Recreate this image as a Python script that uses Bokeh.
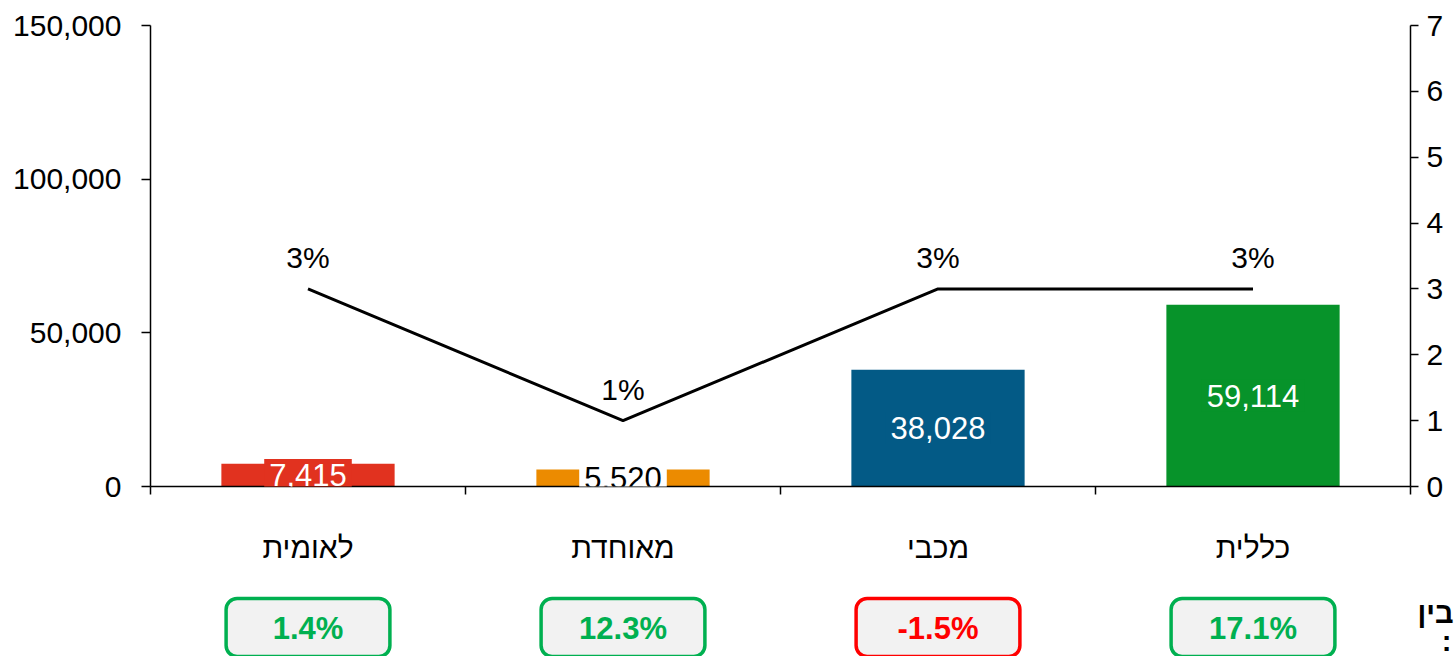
from bokeh.plotting import figure
from bokeh.layouts import column
from bokeh.models import (ColumnDataSource, Range1d, LinearAxis, FixedTicker,
                          NumeralTickFormatter, LabelSet, Label)
from bokeh.core.properties import value
from bokeh.embed import file_html
from bokeh.resources import INLINE

# ---------------- data ----------------
categories = ["לאומית", "מאוחדת", "מכבי", "כללית"]
members = [7415, 5520, 38028, 59114]
share_pct = [3, 1, 3, 3]
change_pct = [1.4, 12.3, -1.5, 17.1]
left_ticks = [0, 50000, 100000, 150000]
right_ticks = [0, 1, 2, 3, 4, 5, 6, 7]
side_note = ["בין", ":"]          # cut-off note at the bottom-right edge

# ---------------- styles / layout ----------------
bar_colors = ["#E1321F", "#EC8B00", "#035A86", "#07932A"]
label_text_colors = ["white", "black", "white", "white"]
label_bg_colors = ["#E1321F", "white", "#035A86", "#07932A"]
FONT = "Liberation Sans"
W, H = 1456, 656
FRAME_L, FRAME_R, FRAME_T, FRAME_B = 150, 1412, 25, 486
MAIN_H = 583
STRIP_H = H - MAIN_H

n = len(categories)
slot = [i + 0.5 for i in range(n)]   # centre of each category slot

src = ColumnDataSource(dict(
    x=slot,
    members=members,
    share=share_pct,
    share_lbl=[f"{s}%" for s in share_pct],
    color=bar_colors,
    chg_lbl=[f"{c:.1f}%" for c in change_pct],
    chg_col=["#00B050" if c >= 0 else "#FF0000" for c in change_pct],
))

p = figure(width=W, height=MAIN_H,
           x_range=Range1d(0, n),
           y_range=Range1d(0, 150000),
           output_backend="svg", toolbar_location=None,
           x_axis_location=None, y_axis_location=None,
           min_border_left=FRAME_L, min_border_right=W - FRAME_R,
           min_border_top=FRAME_T, min_border_bottom=MAIN_H - FRAME_B)
p.outline_line_color = None
p.grid.visible = False
p.background_fill_color = "white"

p.extra_y_ranges = {"pct": Range1d(0, 7)}

xa = LinearAxis(ticker=FixedTicker(ticks=slot, minor_ticks=list(range(n + 1))),
                major_label_overrides={sx: c for sx, c in zip(slot, categories)})
xa.major_tick_out = 0
xa.major_tick_in = 0
xa.minor_tick_out = 8
xa.minor_tick_in = 0
xa.minor_tick_line_color = "black"
xa.minor_tick_line_width = 1.5
xa.axis_line_color = "black"
xa.axis_line_width = 1.5
xa.major_label_standoff = 36
xa.major_label_text_font = FONT
xa.major_label_text_font_size = "30px"
xa.major_label_text_color = "black"
p.add_layout(xa, "below")

ya = LinearAxis(ticker=FixedTicker(ticks=left_ticks),
                formatter=NumeralTickFormatter(format="0,0"))
ya.major_tick_out = 9
ya.major_tick_in = 0
ya.minor_tick_out = 0
ya.minor_tick_in = 0
ya.major_tick_line_width = 1.5
ya.axis_line_width = 1.5
ya.major_label_standoff = 20
ya.major_label_text_font = FONT
ya.major_label_text_font_size = "30px"
ya.major_label_text_color = "black"
p.add_layout(ya, "left")

ya2 = LinearAxis(y_range_name="pct", ticker=FixedTicker(ticks=right_ticks))
ya2.major_tick_out = 8
ya2.major_tick_in = 0
ya2.minor_tick_out = 0
ya2.minor_tick_in = 0
ya2.major_tick_line_width = 1.5
ya2.axis_line_width = 1.5
ya2.major_label_standoff = 8
ya2.major_label_text_font = FONT
ya2.major_label_text_font_size = "30px"
ya2.major_label_text_color = "black"
p.add_layout(ya2, "right")

p.vbar(x="x", top="members", width=0.55, fill_color="color", line_color=None, source=src)
p.line(x="x", y="share", y_range_name="pct", line_width=3, line_color="black", source=src)

# value labels in the middle of each bar, with a box behind them
for sx, m, tc, bg in zip(slot, members, label_text_colors, label_bg_colors):
    p.add_layout(Label(x=sx, y=m / 2, text=f"{m:,}",
                       text_align="center", text_baseline="middle",
                       text_color=tc, background_fill_color=bg, padding=5,
                       text_font=FONT, text_font_size="31px"))

p.add_layout(LabelSet(x="x", y="share", y_range_name="pct", text="share_lbl", source=src,
                      text_align="center", text_baseline="bottom", y_offset=15,
                      text_color="black", text_font=value(FONT), text_font_size="30px"))

# ---------------- bottom strip with change boxes ----------------
s = figure(width=W, height=STRIP_H,
           x_range=p.x_range,
           y_range=Range1d(STRIP_H, 0),
           output_backend="svg", toolbar_location=None,
           x_axis_location=None, y_axis_location=None,
           min_border_left=FRAME_L, min_border_right=W - FRAME_R,
           min_border_top=0, min_border_bottom=0)
s.outline_line_color = None
s.grid.visible = False
s.vbar(x="x", top=15, bottom=STRIP_H + 20, width=0.52, fill_color="#F2F2F2",
       line_color="chg_col", line_width=3.5, border_radius=11, source=src)
s.text(x="x", y=45, text="chg_lbl", text_color="chg_col", source=src,
       text_align="center", text_baseline="middle",
       text_font=value(FONT), text_font_size="31px", text_font_style="bold")

# the note on the right edge, drawn as labels of an invisible right axis
note_axis = LinearAxis(ticker=FixedTicker(ticks=[29, 64]),
                       major_label_overrides={29: side_note[0],
                                              64: "\u00a0\u00a0\u00a0" + side_note[1]})
note_axis.axis_line_color = None
note_axis.major_tick_line_color = None
note_axis.minor_tick_line_color = None
note_axis.major_tick_out = 0
note_axis.major_tick_in = 0
note_axis.major_label_standoff = 7
note_axis.major_label_text_font = FONT
note_axis.major_label_text_font_size = "29px"
note_axis.major_label_text_font_style = "bold"
note_axis.major_label_text_color = "black"
s.add_layout(note_axis, "right")

layout = column(p, s, spacing=0)
open("out.html", "w").write(file_html(layout, INLINE))
